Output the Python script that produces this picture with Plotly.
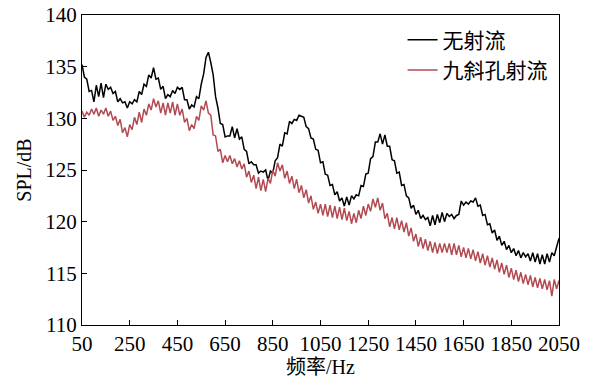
import plotly.graph_objects as go

freq = list(range(50, 2051, 10))

spl_no_jet = [
135.2,134.0,133.8,132.6,132.7,131.6,133.2,132.1,133.4,132.0,
133.3,132.8,133.0,132.4,132.6,131.6,131.9,131.5,131.6,131.0,
131.6,131.4,131.8,131.6,132.6,132.3,133.3,133.1,134.2,133.9,
134.9,133.8,133.9,132.8,133.1,131.9,132.3,132.1,132.7,132.4,
133.0,132.8,133.0,131.8,131.8,130.9,131.3,131.1,132.1,131.9,
133.3,134.3,135.9,136.4,135.4,134.2,132.1,131.0,129.5,129.4,
128.2,128.3,128.3,129.2,128.1,129.0,128.0,128.2,127.0,126.8,
125.6,125.8,125.5,125.5,124.7,124.9,124.8,125.0,124.0,124.9,
124.7,125.9,126.2,127.5,127.3,128.6,128.5,129.7,129.5,129.9,
129.8,130.3,130.2,130.1,129.2,129.0,128.1,128.0,127.0,126.9,
125.7,125.8,124.6,124.5,123.5,123.6,122.6,122.9,122.0,122.3,
121.5,122.4,121.6,122.5,122.2,122.6,122.5,123.5,123.4,124.6,
124.7,126.1,126.3,127.7,127.7,128.5,127.5,128.4,127.3,127.3,
126.0,125.9,124.7,124.8,123.5,123.6,122.5,122.3,121.3,121.6,
120.7,121.1,120.3,120.6,120.2,120.4,119.6,120.6,119.7,120.7,
119.9,120.9,120.0,120.8,120.5,120.7,120.3,120.6,120.7,122.0,
121.6,121.9,121.7,122.0,121.9,122.3,121.5,121.6,120.6,120.7,
119.7,119.8,118.9,119.2,118.2,118.6,117.7,118.1,117.3,117.7,
117.0,117.4,116.7,117.2,116.5,117.0,116.6,116.9,116.2,117.0,
116.1,116.9,115.9,116.8,115.9,116.9,116.1,117.0,116.7,117.6,
118.4,
]

spl_nine_jet = [
130.7,130.1,130.6,130.3,130.9,130.4,131.0,130.2,130.8,130.4,
131.0,130.2,130.7,129.8,130.2,129.3,129.9,128.6,129.1,128.2,
129.4,128.9,130.1,129.4,130.6,129.6,130.9,130.3,131.4,130.8,
131.9,131.1,131.7,130.5,131.5,130.3,131.5,130.5,131.6,130.3,
131.4,130.3,130.9,129.6,130.0,128.8,129.4,129.0,130.2,129.8,
131.2,130.8,131.7,130.5,130.3,128.4,128.3,126.8,127.0,125.7,
126.4,125.8,126.4,125.6,126.1,125.3,125.9,125.1,125.6,124.3,
124.9,123.8,124.5,123.2,124.3,123.0,124.1,122.9,124.2,123.7,
125.0,124.4,125.7,124.9,125.5,124.2,124.9,123.7,124.4,123.2,
124.1,122.8,123.5,122.3,123.1,121.8,122.5,121.2,121.9,120.8,
121.7,120.6,121.7,120.5,121.6,120.4,121.5,120.3,121.4,120.2,
121.3,120.1,121.0,119.8,120.8,119.9,121.1,120.3,121.5,120.6,
121.7,121.0,122.2,121.4,122.3,121.1,121.8,120.3,120.8,119.5,
120.4,119.3,120.4,119.2,120.1,119.0,119.9,118.6,119.4,118.1,
118.8,117.6,118.5,117.4,118.3,117.2,118.1,117.0,118.0,116.9,
117.9,117.0,117.9,117.0,117.9,116.8,117.9,116.8,117.7,116.6,
117.5,116.5,117.4,116.4,117.3,116.2,117.1,116.0,116.9,115.8,
116.7,115.6,116.5,115.4,116.3,115.1,116.0,114.9,115.8,114.6,
115.5,114.4,115.3,114.2,115.1,114.0,114.9,113.9,114.8,113.7,
114.6,113.6,114.5,113.5,114.4,113.4,114.3,112.8,114.4,113.5,
114.3,
]

series_names = ["无射流", "九斜孔射流"]
x_ticks = list(range(50, 2051, 200))
y_ticks = list(range(110, 141, 5))

serif = "Liberation Serif, Noto Sans CJK SC, serif"

fig = go.Figure()
fig.add_trace(go.Scatter(x=freq, y=spl_no_jet, mode="lines", name=series_names[0],
                         line=dict(color="#000000", width=1.5)))
fig.add_trace(go.Scatter(x=freq, y=spl_nine_jet, mode="lines", name=series_names[1],
                         line=dict(color="#b24a52", width=1.5)))

fig.update_layout(
    width=590, height=380,
    margin=dict(l=82, r=31, t=15, b=55),
    paper_bgcolor="white", plot_bgcolor="white",
    font=dict(family=serif, size=20, color="black"),
    showlegend=True,
    legend=dict(x=0.672, y=0.985, xanchor="left", yanchor="top",
                bgcolor="rgba(0,0,0,0)", font=dict(family=serif, size=21),
                tracegroupgap=0, itemwidth=30),
    xaxis=dict(range=[50, 2050], tickvals=x_ticks, ticktext=[str(v) for v in x_ticks],
               ticks="inside", ticklen=5, tickwidth=1, tickcolor="black",
               showline=True, linecolor="black", linewidth=1, mirror=True,
               showgrid=False, zeroline=False, automargin=False,
               ticklabeloverflow="allow",
               title=dict(text="频率/Hz", standoff=2, font=dict(family=serif, size=20)),
               tickfont=dict(family=serif, size=21)),
    yaxis=dict(range=[110, 140], tickvals=y_ticks, ticktext=[str(v) for v in y_ticks],
               ticks="inside", ticklen=5, tickwidth=1, tickcolor="black",
               showline=True, linecolor="black", linewidth=1, mirror=True,
               showgrid=False, zeroline=False, automargin=False,
               ticklabeloverflow="allow",
               title=dict(text="SPL/dB", standoff=8, font=dict(family=serif, size=20)),
               tickfont=dict(family=serif, size=21)),
)

fig.write_html("out.html", config={"displayModeBar": False},
               post_script="document.body.style.margin='0';")
